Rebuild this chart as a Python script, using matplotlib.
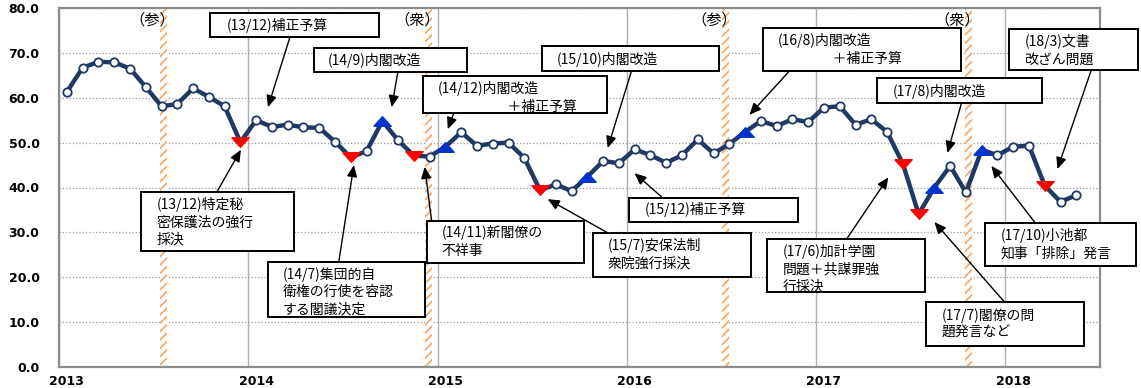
import matplotlib
matplotlib.use('Agg')
import matplotlib.pyplot as plt
from matplotlib.patches import Rectangle
import pandas as pd

plt.rcParams['font.family'] = ['Noto Sans CJK JP', 'DejaVu Sans']
plt.rcParams['hatch.linewidth'] = 1.3

# 内閣支持率（月次 2013/1 - 2018/5）
support = [61.3, 66.7, 68.0, 67.9, 66.5, 62.4, 58.1, 58.6, 62.1, 60.2, 58.1, 50.1,
           55.0, 53.5, 54.0, 53.4, 53.3, 50.2, 46.7, 48.1, 54.8, 50.5, 47.1, 46.9,
           49.1, 52.3, 49.3, 49.8, 50.0, 46.6, 39.4, 40.7, 39.2, 42.4, 45.9, 45.4,
           48.5, 47.2, 45.5, 47.2, 50.7, 47.6, 49.7, 52.4, 54.8, 53.7, 55.2, 54.6,
           57.8, 58.1, 54.0, 55.2, 52.4, 45.3, 34.1, 40.0, 44.8, 38.9, 48.4, 47.2,
           49.1, 49.3, 40.4, 36.8, 38.3]
start_month = '2013-01'
down_months = ['2013-12', '2014-07', '2014-11', '2015-07', '2017-06', '2017-07', '2018-03']
up_months = ['2014-09', '2015-01', '2015-10', '2016-08', '2017-08', '2017-11']
years = [2013, 2014, 2015, 2016, 2017, 2018]

# 国政選挙
election_dates = ['2013-07-21', '2014-12-14', '2016-07-10', '2017-10-22']
election_labels = ['（参）', '（衆）', '（参）', '（衆）']

# 注記: テキスト, 枠(x0, 上, x1, 下), 文字位置, 矢印の根元, 矢印の先
notes = [
    ('(13/12)補正予算', (2013.797, 78.9, 2014.690, 73.5), (2013.887, 76.2), (2014.220, 73.5), (2014.104, 57.9)),
    ('(14/9)内閣改造', (2014.346, 71.1, 2015.154, 65.7), (2014.420, 68.4), (2014.790, 65.7), (2014.758, 57.9)),
    ('(14/12)内閣改造\n\u3000\u3000\u3000\u3000\u3000＋補正予算', (2014.922, 64.8, 2015.894, 56.6), (2015.001, 60.05),
     (2015.086, 56.6), (2015.054, 53.0)),
    ('(15/10)内閣改造', (2015.550, 71.5, 2016.485, 66.0), (2015.629, 68.6), (2016.025, 66.0), (2015.899, 48.8)),
    ('(16/8)内閣改造\n\u3000\u3000\u3000\u3000＋補正予算', (2016.717, 75.5, 2017.768, 66.0), (2016.796, 70.75),
     (2016.860, 66.0), (2016.648, 56.2)),
    ('(17/8)内閣改造', (2017.324, 64.4, 2018.196, 58.8), (2017.404, 61.5), (2017.768, 58.8), (2017.694, 47.7)),
    ('(18/3)文書\n改ざん問題', (2018.021, 75.3, 2018.702, 66.2), (2018.100, 70.55), (2018.454, 66.2), (2018.275, 44.1)),
    ('(13/12)特定秘\n密保護法の強行\n採決', (2013.433, 39.0, 2014.241, 25.8), (2013.517, 32.3), (2013.834, 39.0), (2013.961, 48.4)),
    ('(14/7)集団的自\n衛権の行使を容認\nする閣議決定', (2014.104, 23.4, 2014.932, 11.1), (2014.183, 16.8),
     (2014.478, 23.4), (2014.558, 45.0)),
    ('(14/11)新閣僚の\n不祥事', (2014.943, 32.5, 2015.772, 23.2), (2015.022, 28.0), (2014.969, 32.5), (2014.932, 44.6)),
    ('(15/7)安保法制\n衆院強行採決', (2015.820, 29.9, 2016.654, 20.1), (2015.899, 25.05), (2015.899, 29.9), (2015.582, 37.4)),
    ('(15/12)補正予算', (2016.010, 37.7, 2016.907, 32.3), (2016.094, 35.0), (2016.189, 37.7), (2016.041, 43.2)),
    ('(17/6)加計学園\n問題＋共謀罪強\n行採決', (2016.738, 28.5, 2017.578, 16.7), (2016.823, 21.9), (2017.161, 28.5), (2017.382, 42.3)),
    ('(17/7)閣僚の問\n題発言など', (2017.583, 14.5, 2018.417, 4.7), (2017.662, 9.6), (2017.995, 14.5), (2017.625, 32.3)),
    ('(17/10)小池都\n知事「排除」発言', (2017.895, 32.1, 2018.692, 22.5), (2017.974, 27.4), (2018.158, 32.1), (2017.926, 44.8)),
]

navy = '#1F3864'

months = pd.period_range(start_month, periods=len(support), freq='M')
x = [m.year + (m.month - 0.5) / 12 for m in months]
keys = [str(m) for m in months]

fig = plt.figure(figsize=(11.41, 3.88), dpi=100, facecolor='white')
ax = fig.add_axes([59 / 1141, 21 / 388, 1041 / 1141, 359 / 388])

# 選挙（オレンジ斜線）
for d, lab in zip(election_dates, election_labels):
    t = pd.Timestamp(d)
    ex = t.year + (t.dayofyear - 1) / 365
    ax.axvspan(ex - 0.018, ex + 0.018, facecolor='white', edgecolor='#F6A96B', hatch='////', lw=0, zorder=1)
    ax.text(ex - 0.06, 77.4, lab, ha='center', va='center', fontsize=11, zorder=2)

# 支持率の線と点
ax.plot(x, support, color=navy, lw=3.2, zorder=3, solid_joinstyle='round')
normal = [i for i, k in enumerate(keys) if k not in down_months and k not in up_months]
ax.plot([x[i] for i in normal], [support[i] for i in normal], 'o', ms=6, mfc='white', mec=navy, mew=1.3, zorder=4)

down_tri = [(-1, 0.55), (1, 0.55), (0, -0.55), (-1, 0.55)]
up_tri = [(-1, -0.55), (1, -0.55), (0, 0.55), (-1, -0.55)]
dn = [keys.index(k) for k in down_months]
up = [keys.index(k) for k in up_months]
ax.plot([x[i] for i in dn], [support[i] for i in dn], ls='none', marker=down_tri, ms=12.5, color='#FF0000', zorder=4)
ax.plot([x[i] for i in up], [support[i] for i in up], ls='none', marker=up_tri, ms=12.5, color='#0033CC', zorder=4)

# 注記
for txt, box, tpos, tail, head in notes:
    x0, y0, x1, y1 = box
    ax.add_patch(Rectangle((x0, y1), x1 - x0, y0 - y1, facecolor='white', edgecolor='black',
                           lw=1.4, zorder=6, clip_on=False))
    ax.text(tpos[0], tpos[1], txt, ha='left', va='center', fontsize=10, linespacing=1.3,
            zorder=7, clip_on=False)
    ax.annotate('', xy=head, xytext=tail, xycoords='data', textcoords='data',
                arrowprops=dict(arrowstyle='-|>,head_length=0.5,head_width=0.22', color='black',
                                lw=1, shrinkA=0, shrinkB=0, mutation_scale=14),
                zorder=5, annotation_clip=False)

# 軸
ax.set_xlim(2013, 2018.5)
ax.set_ylim(0, 80)
ax.set_yticks(range(0, 81, 10))
ax.set_yticklabels(['%.1f' % v for v in range(0, 81, 10)], fontfamily='DejaVu Sans', fontweight='bold', fontsize=9)
ax.set_xticks(years)
ax.set_xticklabels([])
ax.set_xticks([y + 1 / 24 for y in years], minor=True)
ax.set_xticklabels([str(y) for y in years], minor=True, fontfamily='DejaVu Sans', fontweight='bold', fontsize=9)
ax.tick_params(which='both', length=0)
ax.tick_params(axis='y', pad=14)
ax.tick_params(axis='x', which='minor', pad=6)

ax.yaxis.grid(True, linestyle=':', color='#999999', lw=0.9)
ax.xaxis.grid(True, which='major', linestyle='-', color='#b0b0b0', lw=1)
ax.set_axisbelow(True)
for s in ax.spines.values():
    s.set_color('#8c8c8c')
    s.set_linewidth(1.6)

fig.savefig('out.png', dpi=100)
